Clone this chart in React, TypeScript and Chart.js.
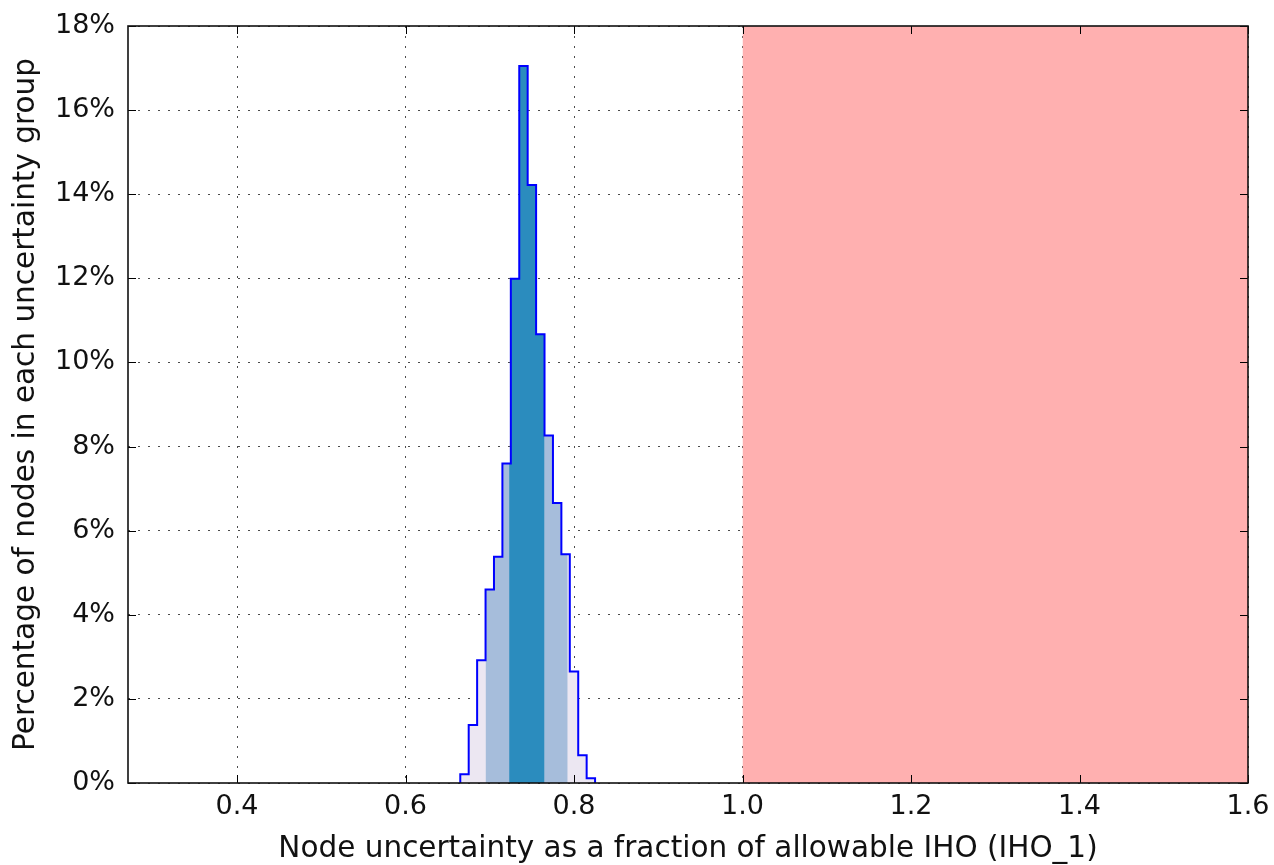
import React, { useEffect, useRef } from "react";
import { Chart, registerables } from "chart.js";

Chart.register(...registerables);

// ---- data ----
const binCenters = [0.67, 0.68, 0.69, 0.70, 0.71, 0.72, 0.73, 0.74, 0.75, 0.76, 0.77, 0.78, 0.79, 0.80, 0.81, 0.82];
const binPercent = [0.21, 1.38, 2.92, 4.6, 5.38, 7.6, 11.99, 17.05, 14.22, 10.67, 8.26, 6.66, 5.44, 2.65, 0.66, 0.11];
const binWidth = 0.01;
const innerBand = [0.723, 0.765];
const middleBand = [0.695, 0.7925];
const limitRange = [1.0, 1.6];
const xTicks = [0.4, 0.6, 0.8, 1.0, 1.2, 1.4, 1.6];
const yTicks = [0, 2, 4, 6, 8, 10, 12, 14, 16, 18];
const xMin = 0.2706;
const xMax = 1.6;
const yMax = 18;
const xTitle = "Node uncertainty as a fraction of allowable IHO (IHO_1)";
const yTitle = "Percentage of nodes in each uncertainty group";

const FONT = "'DejaVu Sans', sans-serif";

function stepSegment(lo: number, hi: number) {
  const pts: { x: number; y: number }[] = [];
  binCenters.forEach((c, i) => {
    const l = Math.max(c - binWidth / 2, lo);
    const r = Math.min(c + binWidth / 2, hi);
    if (r > l) {
      pts.push({ x: l, y: binPercent[i] }, { x: r, y: binPercent[i] });
    }
  });
  return pts;
}

const frameTicksPlugin = {
  id: "frameTicks",
  afterDraw(chart: any) {
    const { ctx, chartArea: a, scales } = chart;
    const len = 8;
    ctx.save();
    ctx.strokeStyle = "#000";
    ctx.lineWidth = 1;
    ctx.setLineDash([]);
    ctx.beginPath();
    xTicks.forEach((v) => {
      const px = Math.round(scales.x.getPixelForValue(v)) + 0.5;
      ctx.moveTo(px, a.bottom);
      ctx.lineTo(px, a.bottom - len);
      ctx.moveTo(px, a.top);
      ctx.lineTo(px, a.top + len);
    });
    yTicks.forEach((v) => {
      const py = Math.round(scales.y.getPixelForValue(v)) + 0.5;
      ctx.moveTo(a.left, py);
      ctx.lineTo(a.left + len, py);
      ctx.moveTo(a.right, py);
      ctx.lineTo(a.right - len, py);
    });
    ctx.stroke();
    ctx.lineWidth = 1.6;
    ctx.strokeStyle = "#111";
    ctx.strokeRect(a.left, a.top, a.right - a.left, a.bottom - a.top);
    ctx.restore();
  },
};

export default function App() {
  const ref = useRef<HTMLCanvasElement | null>(null);

  useEffect(() => {
    if (!ref.current) return;
    const first = binCenters[0] - binWidth / 2;
    const last = binCenters[binCenters.length - 1] + binWidth / 2;
    const outline = [{ x: first, y: 0 }, ...stepSegment(-Infinity, Infinity), { x: last, y: 0 }];

    const gridCommon = {
      color: "rgba(0,0,0,0.7)",
      lineWidth: 1,
      drawTicks: false,
    };

    const chart = new Chart(ref.current, {
      type: "line",
      data: {
        datasets: [
          {
            data: outline,
            borderColor: "#0000ff",
            borderWidth: 2,
            fill: false,
            pointRadius: 0,
            order: 0,
          },
          {
            data: stepSegment(innerBand[0], innerBand[1]),
            borderWidth: 0,
            borderColor: "rgba(0,0,0,0)",
            backgroundColor: "#2b8cbe",
            fill: "origin",
            pointRadius: 0,
            order: 1,
          },
          {
            data: stepSegment(middleBand[0], middleBand[1]),
            borderWidth: 0,
            borderColor: "rgba(0,0,0,0)",
            backgroundColor: "#a6bddb",
            fill: "origin",
            pointRadius: 0,
            order: 2,
          },
          {
            data: stepSegment(-Infinity, Infinity),
            borderWidth: 0,
            borderColor: "rgba(0,0,0,0)",
            backgroundColor: "#ece7f2",
            fill: "origin",
            pointRadius: 0,
            order: 3,
          },
          {
            data: [
              { x: limitRange[0], y: yMax },
              { x: limitRange[1], y: yMax },
            ],
            borderWidth: 0,
            borderColor: "rgba(0,0,0,0)",
            backgroundColor: "rgb(255,176,176)",
            fill: "origin",
            pointRadius: 0,
            order: 4,
          },
        ],
      } as any,
      options: {
        animation: false,
        responsive: false,
        devicePixelRatio: 1,
        layout: { padding: { left: 0, top: 26, right: 26, bottom: 0 } },
        plugins: { legend: { display: false }, tooltip: { enabled: false } },
        elements: { line: { tension: 0 } },
        scales: {
          x: {
            type: "linear",
            min: xMin,
            max: xMax,
            z: 1,
            afterBuildTicks: (s: any) => {
              s.ticks = xTicks.map((v) => ({ value: v }));
            },
            afterFit: (s: any) => {
              s.height = 82;
              s.paddingLeft = 0;
              s.paddingRight = 0;
            },
            border: { display: false, dash: [2, 8] },
            grid: gridCommon,
            ticks: {
              padding: 8,
              color: "#111",
              font: { family: FONT, size: 27 },
              maxRotation: 0,
              autoSkip: false,
              callback: (v: any) => Number(v).toFixed(1),
            },
            title: {
              display: true,
              text: xTitle,
              color: "#111",
              font: { family: FONT, size: 29.5, lineHeight: 1 },
              padding: { top: 0, bottom: 1 },
            },
          },
          y: {
            type: "linear",
            min: 0,
            max: yMax,
            z: 1,
            afterBuildTicks: (s: any) => {
              s.ticks = yTicks.map((v) => ({ value: v }));
            },
            afterFit: (s: any) => {
              s.width = 128;
              s.paddingTop = 0;
              s.paddingBottom = 0;
            },
            border: { display: false, dash: [2, 8] },
            grid: gridCommon,
            ticks: {
              padding: 13,
              color: "#111",
              font: { family: FONT, size: 27 },
              autoSkip: false,
              callback: (v: any) => `${v}%`,
            },
            title: {
              display: true,
              text: yTitle,
              color: "#111",
              font: { family: FONT, size: 29.5, lineHeight: 1 },
              padding: { top: 11.5, bottom: 0 },
            },
          },
        },
      } as any,
      plugins: [frameTicksPlugin],
    });
    return () => chart.destroy();
  }, []);

  return (
    <div style={{ position: "absolute", left: 0, top: 0, width: 1274, height: 865, background: "#fff" }}>
      <canvas ref={ref} width={1274} height={865} style={{ display: "block" }} />
    </div>
  );
}
